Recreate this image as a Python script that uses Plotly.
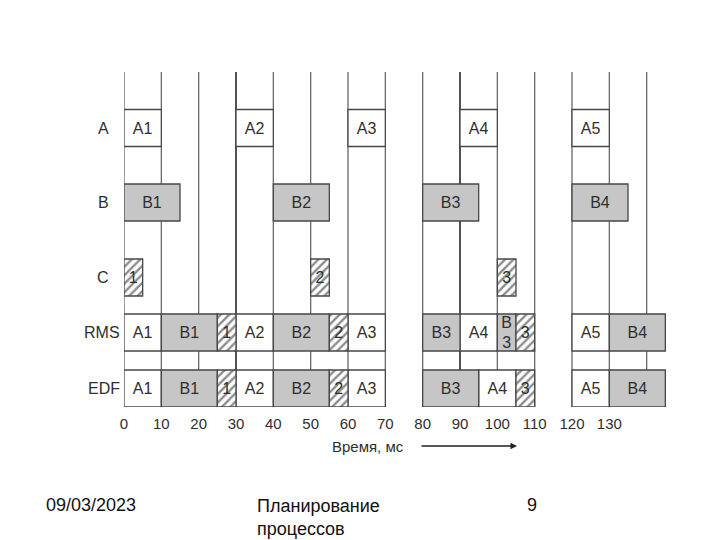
import plotly.graph_objects as go

# ---------------- data ----------------
rows = ["A", "B", "C", "RMS", "EDF"]

A_labels = ["A1", "A2", "A3", "A4", "A5"]
A_start = [0, 30, 60, 90, 120]
A_end = [10, 40, 70, 100, 130]

B_labels = ["B1", "B2", "B3", "B4"]
B_start = [0, 40, 80, 120]
B_end = [15, 55, 95, 135]

C_labels = ["1", "2", "3"]
C_start = [0, 50, 100]
C_end = [5, 55, 105]

RMS_labels = ["A1", "B1", "1", "A2", "B2", "2", "A3", "B3", "A4", "B<br>3", "3", "A5", "B4"]
RMS_kind = ["A", "B", "C", "A", "B", "C", "A", "B", "A", "B", "C", "A", "B"]
RMS_start = [0, 10, 25, 30, 40, 55, 60, 80, 90, 100, 105, 120, 130]
RMS_end = [10, 25, 30, 40, 55, 60, 70, 90, 100, 105, 110, 130, 145]

EDF_labels = ["A1", "B1", "1", "A2", "B2", "2", "A3", "B3", "A4", "3", "A5", "B4"]
EDF_kind = ["A", "B", "C", "A", "B", "C", "A", "B", "A", "C", "A", "B"]
EDF_start = [0, 10, 25, 30, 40, 55, 60, 80, 95, 105, 120, 130]
EDF_end = [10, 25, 30, 40, 55, 60, 70, 95, 105, 110, 130, 145]

tick_vals = [0, 10, 20, 30, 40, 50, 60, 70, 80, 90, 100, 110, 120, 130]
tick_text = [str(v) for v in tick_vals]
grid_times = list(range(0, 150, 10))

x_title = "Время, мс"
footer_date = "09/03/2023"
footer_title = "Планирование<br>процессов"
footer_page = "9"

# ---------------- layout constants ----------------
W, H = 720, 540
L, R, T, B = 124, 36, 72, 133
PW, PH = W - L - R, H - T - B
X_MAX = 150
row_y = {"A": 128, "B": 202.5, "C": 277.5, "RMS": 332.5, "EDF": 388.5}
bar_h = 37
FONT = "Liberation Sans, Arial, sans-serif"
EDGE = "#474747"
GRAY = "#c6c6c6"
TXT = "#2e2e2e"
dark_lines = [30, 90]


def px_x(p):
    return (p - L) / PW


def px_y(p):
    return (H - B - p) / PH


# collect segments by kind
segs = {"A": [], "B": [], "C": []}
for lab, s, e in zip(A_labels, A_start, A_end):
    segs["A"].append(("A", lab, s, e))
for lab, s, e in zip(B_labels, B_start, B_end):
    segs["B"].append(("B", lab, s, e))
for lab, s, e in zip(C_labels, C_start, C_end):
    segs["C"].append(("C", lab, s, e))
for lab, k, s, e in zip(RMS_labels, RMS_kind, RMS_start, RMS_end):
    segs[k].append(("RMS", lab, s, e))
for lab, k, s, e in zip(EDF_labels, EDF_kind, EDF_start, EDF_end):
    segs[k].append(("EDF", lab, s, e))

fig = go.Figure()

styles = {
    "A": dict(color="white"),
    "B": dict(color=GRAY),
    "C": dict(color="white", pattern=dict(shape="/", size=6, solidity=0.4,
                                           fgcolor="#1a1a1a", bgcolor="white")),
}

for k in ["A", "B", "C"]:
    lst = segs[k]
    fig.add_trace(go.Bar(
        orientation="h",
        y=[row_y[r] for r, _, _, _ in lst],
        x=[e - s for _, _, s, e in lst],
        base=[s for _, _, s, _ in lst],
        width=bar_h,
        text=[lab for _, lab, _, _ in lst],
        textposition="inside",
        insidetextanchor="middle",
        constraintext="none",
        textfont=dict(family=FONT, size=16, color=TXT),
        marker=dict(line=dict(color=EDGE, width=1.3), **styles[k]),
        hoverinfo="skip",
        showlegend=False,
    ))

# vertical time lines
for t in grid_times:
    dark = t in dark_lines
    fig.add_shape(type="line", xref="x", yref="y", x0=t, x1=t, y0=T, y1=H - B,
                  line=dict(color="#1a1a1a" if dark else "#6a6a6a", width=1.5 if dark else 1.3),
                  layer="below")

ann = []
for r in rows:
    if r in ("A", "B", "C"):
        ann.append(dict(x=px_x(103), xanchor="center", text=r))
    else:
        ann.append(dict(x=px_x(122), xanchor="right", text=r))
    ann[-1].update(xref="paper", yref="y", y=row_y[r], yanchor="middle", showarrow=False,
                   font=dict(family=FONT, size=16, color=TXT))

ann.append(dict(xref="paper", yref="paper", x=px_x(368), y=px_y(447), xanchor="center",
                yanchor="middle", text=x_title, showarrow=False,
                font=dict(family=FONT, size=15, color=TXT)))
ann.append(dict(xref="paper", yref="paper", x=px_x(517), y=px_y(446), ax=-97, ay=0,
                text="", showarrow=True, arrowhead=2, arrowsize=1, arrowwidth=1.3,
                arrowcolor="#222222"))
ann.append(dict(xref="paper", yref="paper", x=px_x(44), y=px_y(505), xanchor="left",
                yanchor="middle", text=footer_date, showarrow=False,
                font=dict(family=FONT, size=18, color="#111111")))
ann.append(dict(xref="paper", yref="paper", x=px_x(255), y=px_y(494), xanchor="left",
                yanchor="top", align="left", text=footer_title, showarrow=False,
                font=dict(family=FONT, size=18, color="#111111")))
ann.append(dict(xref="paper", yref="paper", x=px_x(525), y=px_y(505), xanchor="left",
                yanchor="middle", text=footer_page, showarrow=False,
                font=dict(family=FONT, size=18, color="#111111")))

fig.update_layout(
    width=W, height=H,
    margin=dict(l=L, r=R, t=T, b=B, pad=0),
    paper_bgcolor="white", plot_bgcolor="white",
    barmode="overlay",
    xaxis=dict(range=[0, X_MAX], showgrid=False, zeroline=False, showline=False,
               tickmode="array", tickvals=tick_vals, ticktext=tick_text,
               ticks="", ticklabelstandoff=6, fixedrange=True,
               tickfont=dict(family=FONT, size=15, color=TXT)),
    yaxis=dict(range=[H - B, T], showgrid=False, zeroline=False, showline=False,
               showticklabels=False, ticks="", fixedrange=True),
    annotations=ann,
)

fig.write_html("out.html", config={"displayModeBar": False},
               post_script="document.body.style.margin='0';")
